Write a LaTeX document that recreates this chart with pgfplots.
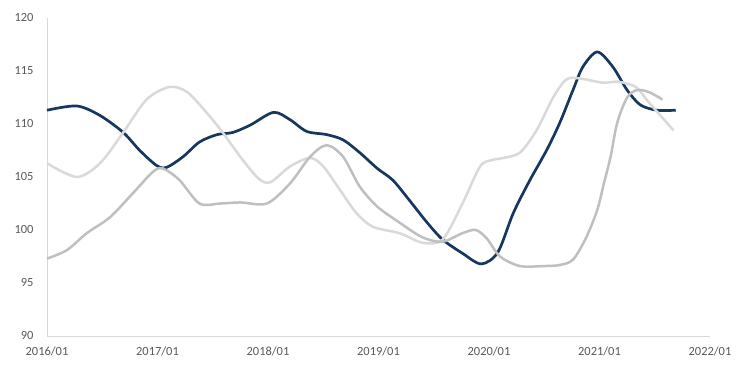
\documentclass[border=0pt]{standalone}
\usepackage{pgfplots}
\pgfplotsset{compat=1.18}
\usepackage{fontspec}
\setmainfont{Carlito}
\definecolor{navy}{HTML}{17375E}
\definecolor{lgray}{HTML}{D9D9D9}
\definecolor{mgray}{HTML}{BFBFBF}
\definecolor{axgray}{HTML}{D9D9D9}
\definecolor{lbl}{HTML}{595959}
\begin{document}
\begin{tikzpicture}
\useasboundingbox (-47bp,-30bp) rectangle (697bp,336bp);
\begin{axis}[
  at={(0,0)}, anchor=south west,
  scale only axis, width=663bp, height=318bp,
  xmin=0, xmax=6, ymin=90, ymax=120,
  ytick={90,95,...,120},
  xtick={0,1,2,3,4,5,6},
  xticklabels={2016/01,2017/01,2018/01,2019/01,2020/01,2021/01,2022/01},
  axis x line*=bottom, axis y line*=left,
  axis line style={draw=axgray, line width=0.9bp},
  major tick length=0, tick style={draw=none},
  ticklabel style={font=\fontsize{12.5}{15}\selectfont, text=lbl},
  /pgf/number format/assume math mode=true,
  yticklabel style={xshift=-10bp},
  xticklabel style={yshift=-7bp},
  clip=false,
]
% navy series
\addplot[navy, line width=2.7bp, smooth, tension=0.5] coordinates {
(0,111.3) (0.27,111.7) (0.48,110.8) (0.69,109.2) (0.84,107.5) (0.99,106.1)
(1.08,105.9) (1.23,106.9) (1.38,108.3) (1.54,109.0) (1.68,109.2) (1.84,109.9)
(2.05,111.1) (2.2,110.4) (2.35,109.3) (2.53,109.0) (2.68,108.5) (2.83,107.3)
(2.99,105.8) (3.13,104.7) (3.28,102.8) (3.44,100.7) (3.58,99.1) (3.76,97.8)
(3.93,96.8) (4.08,97.9) (4.22,101.6) (4.37,104.7) (4.52,107.5) (4.64,110.1)
(4.76,113.2) (4.85,115.4) (4.98,116.8) (5.12,115.4) (5.25,113.2) (5.37,111.8)
(5.52,111.3) (5.69,111.3)
};
% light gray series
\addplot[lgray, line width=2.5bp, smooth, tension=0.5] coordinates {
(0,106.3) (0.27,105.0) (0.48,106.3) (0.69,109.2) (0.9,112.3) (1.11,113.5)
(1.27,113.0) (1.45,111.0) (1.59,109.2) (1.75,106.9) (1.91,104.9) (2.02,104.5)
(2.2,106.0) (2.38,106.8) (2.5,106.0) (2.65,103.8) (2.8,101.6) (2.95,100.3)
(3.19,99.7) (3.4,98.8) (3.58,99.1) (3.76,102.5) (3.92,106.0) (4.03,106.6)
(4.13,106.8) (4.28,107.3) (4.43,109.4) (4.58,112.5) (4.7,114.2) (4.82,114.3)
(5.03,113.9) (5.16,114.0) (5.25,113.8) (5.34,113.4) (5.45,112.0) (5.67,109.4)
};
% medium gray series
\addplot[mgray, line width=2.5bp, smooth, tension=0.5] coordinates {
(0,97.3) (0.18,98.1) (0.36,99.7) (0.57,101.2) (0.78,103.5) (0.96,105.5)
(1.05,105.8) (1.2,104.7) (1.38,102.5) (1.57,102.5) (1.75,102.6) (1.99,102.5)
(2.2,104.4) (2.38,106.9) (2.53,108.0) (2.68,106.9) (2.83,104.1) (2.99,102.2)
(3.19,100.7) (3.4,99.3) (3.58,98.9) (3.76,99.7) (3.88,100.0) (3.98,99.2)
(4.1,97.5) (4.28,96.6) (4.5,96.6) (4.64,96.7) (4.76,97.2) (4.88,99.3)
(4.98,101.9) (5.04,104.4) (5.1,106.9) (5.16,110.1) (5.25,112.5) (5.34,113.2)
(5.45,113.0) (5.57,112.3)
};
\end{axis}
\end{tikzpicture}
\end{document}
